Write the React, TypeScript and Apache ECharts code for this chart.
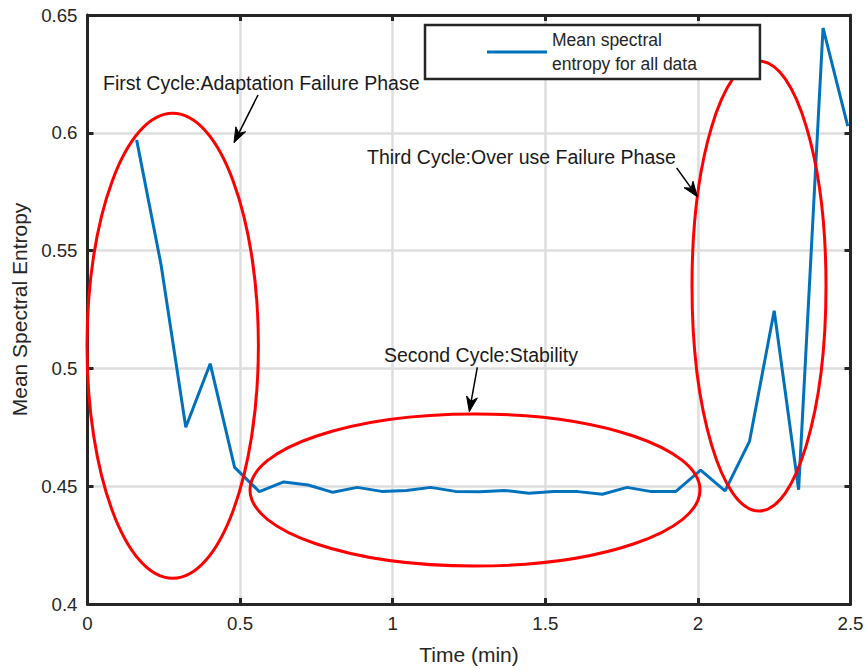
import React, { useEffect, useRef } from "react";
import * as echarts from "echarts";

// Time (min) of each sample
const times = [
  0.161, 0.241, 0.322, 0.402, 0.482, 0.563, 0.643, 0.723, 0.804, 0.884,
  0.964, 1.045, 1.125, 1.205, 1.286, 1.366, 1.446, 1.527, 1.607, 1.687,
  1.768, 1.848, 1.928, 2.009, 2.089, 2.169, 2.25, 2.33, 2.41, 2.491,
];
// Mean spectral entropy for all data
const entropy = [
  0.597, 0.544, 0.475, 0.502, 0.458, 0.4477, 0.4518, 0.4505, 0.4474, 0.4495,
  0.4478, 0.4482, 0.4495, 0.4478, 0.4476, 0.4482, 0.447, 0.4478, 0.4477, 0.4466,
  0.4495, 0.4477, 0.4478, 0.4568, 0.448, 0.469, 0.5245, 0.4485, 0.6445, 0.6028,
];
const seriesName = "Mean spectral entropy for all data";
const legendLabel = "Mean spectral\nentropy for all data";
const xTitle = "Time (min)";
const yTitle = "Mean Spectral Entropy";
const annotations = [
  "First Cycle:Adaptation Failure Phase",
  "Second Cycle:Stability",
  "Third Cycle:Over use Failure Phase",
];

const FONT = "'Liberation Sans', Arial, Helvetica, sans-serif";
const AX = "#262626";

function arrow(x1: number, y1: number, x2: number, y2: number) {
  const dx = x2 - x1;
  const dy = y2 - y1;
  const len = Math.sqrt(dx * dx + dy * dy);
  const ux = dx / len;
  const uy = dy / len;
  const nx = -uy;
  const ny = ux;
  const L = 15;
  const W = 5.5;
  const bx = x2 - ux * L;
  const by = y2 - uy * L;
  const mx = x2 - ux * L * 0.7;
  const my = y2 - uy * L * 0.7;
  return [
    {
      type: "line",
      z: 110,
      shape: { x1, y1, x2: mx, y2: my },
      style: { stroke: "#000", lineWidth: 1.5 },
    },
    {
      type: "polygon",
      z: 111,
      shape: {
        points: [
          [x2, y2],
          [bx + nx * W, by + ny * W],
          [mx, my],
          [bx - nx * W, by - ny * W],
        ],
      },
      style: { fill: "#000", stroke: "#000", lineWidth: 1 },
    },
  ];
}

function label(text: string, x: number, y: number) {
  return {
    type: "text",
    z: 112,
    x,
    y,
    style: {
      text,
      fontSize: 19.5,
      fontFamily: FONT,
      fill: "#1a1a1a",
      verticalAlign: "middle",
      align: "left",
    },
  };
}

function ellipse(cx: number, cy: number, rx: number, ry: number) {
  return {
    type: "ellipse",
    z: 105,
    shape: { cx, cy, rx, ry },
    style: { fill: "none", stroke: "#ff0000", lineWidth: 3 },
  };
}

export default function App() {
  const ref = useRef<HTMLDivElement>(null);
  useEffect(() => {
    if (!ref.current) return;
    const chart = echarts.init(ref.current, undefined, { renderer: "svg" });
    const data = times.map((t, i) => [t, entropy[i]]);
    const axisCommon = {
      type: "value",
      axisLine: { show: true, onZero: false, lineStyle: { color: AX, width: 3 } },
      axisTick: { show: true, inside: true, length: 6, lineStyle: { color: AX, width: 3 } },
    };
    chart.setOption({
      animation: false,
      backgroundColor: "#fff",
      grid: { left: 87.5, right: 16.5, top: 15, bottom: 63.5, containLabel: false },
      xAxis: [
        {
          ...axisCommon,
          position: "bottom",
          min: 0,
          max: 2.5,
          interval: 0.5,
          name: xTitle,
          nameLocation: "middle",
          nameGap: 40,
          nameTextStyle: { fontSize: 21, fontFamily: FONT, color: AX },
          axisLabel: { fontSize: 18.7, fontFamily: FONT, color: AX, margin: 10 },
          splitLine: { show: true, lineStyle: { color: "#dedede", width: 2.5 } },
        },
        {
          ...axisCommon,
          position: "top",
          min: 0,
          max: 2.5,
          interval: 0.5,
          axisLabel: { show: false },
          splitLine: { show: false },
        },
      ],
      yAxis: [
        {
          ...axisCommon,
          position: "left",
          min: 0.4,
          max: 0.65,
          interval: 0.05,
          name: yTitle,
          nameLocation: "middle",
          nameGap: 56,
          nameTextStyle: { fontSize: 21, fontFamily: FONT, color: AX },
          axisLabel: { fontSize: 18.7, fontFamily: FONT, color: AX, margin: 10 },
          splitLine: { show: true, lineStyle: { color: "#dedede", width: 2.5 } },
        },
        {
          ...axisCommon,
          position: "right",
          min: 0.4,
          max: 0.65,
          interval: 0.05,
          axisLabel: { show: false },
          splitLine: { show: false },
        },
      ],
      legend: {
        show: true,
        left: 425,
        top: 25,
        selectedMode: false,
        icon: "rect",
        itemWidth: 60,
        itemHeight: 3,
        padding: [3, 63, 3, 62],
        borderColor: AX,
        borderWidth: 2.5,
        backgroundColor: "#fff",
        formatter: () => legendLabel,
        textStyle: { fontSize: 17.5, fontFamily: FONT, color: AX, lineHeight: 24 },
        data: [seriesName],
        z: 120,
      },
      series: [
        {
          name: seriesName,
          type: "line",
          data,
          showSymbol: false,
          symbol: "none",
          color: "#0072BD",
          lineStyle: { color: "#0072BD", width: 3 },
          z: 10,
        },
      ],
      graphic: {
        elements: [
          ellipse(172.7, 345.8, 85.7, 232.5),
          ellipse(475, 490, 225, 76),
          ellipse(759, 286, 67, 225),
          label(annotations[0], 103, 83),
          label(annotations[1], 384, 355),
          label(annotations[2], 367, 157),
          ...arrow(258, 95, 234, 142.7),
          ...arrow(477.3, 367.3, 469.3, 411.7),
          ...arrow(676.7, 168, 697.3, 196.7),
        ],
      },
    });
    return () => chart.dispose();
  }, []);
  return (
    <div
      ref={ref}
      style={{ position: "fixed", left: 0, top: 0, width: 867, height: 670 }}
    />
  );
}
